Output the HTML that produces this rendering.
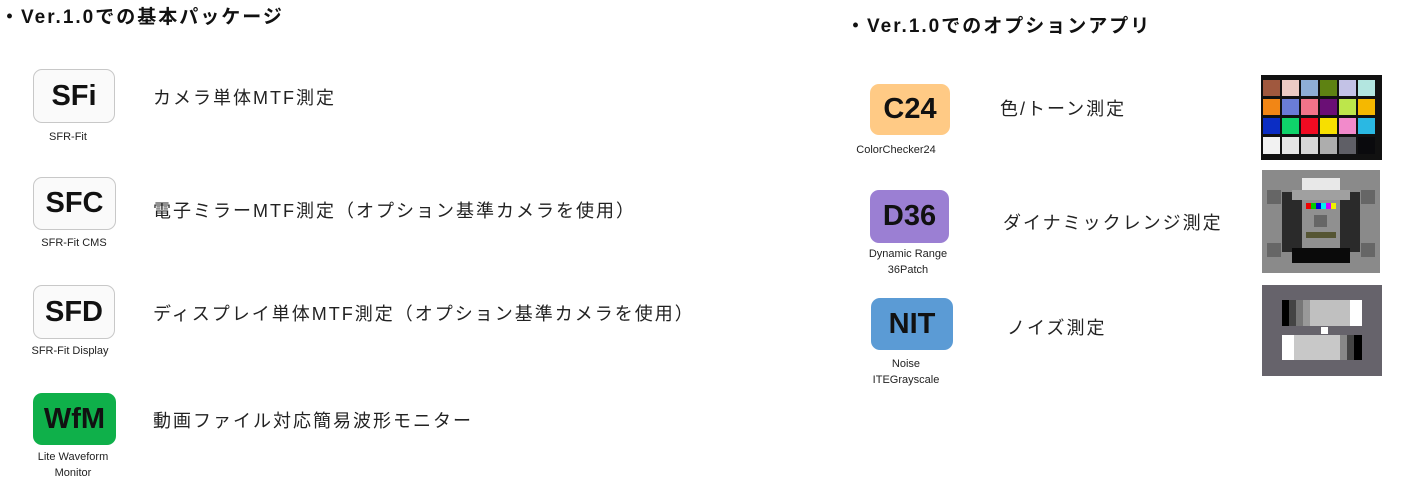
<!DOCTYPE html>
<html><head><meta charset="utf-8"><style>
body{margin:0;width:1404px;height:490px;background:#fff;position:relative;overflow:hidden;font-family:"Liberation Sans","Noto Sans CJK JP",sans-serif;color:#222}
.a{position:absolute;white-space:nowrap}
.t{font-weight:bold;font-size:19px;color:#111;letter-spacing:2px}
.ic{position:absolute;border-radius:9px;display:flex;align-items:center;justify-content:center;font-weight:bold;font-size:29px;color:#111;font-family:"Liberation Sans",sans-serif}
.w{background:#fafafa;border:1.5px solid #c8c8c8;box-sizing:border-box}
.l{font-size:11px;text-align:center;color:#222;line-height:16px;transform:translateX(-50%)}
.d{font-size:18px;color:#222;letter-spacing:2px}
</style></head><body>
<div class="a t" style="left:0;top:2px">・Ver.1.0での基本パッケージ</div>
<div class="a t" style="left:846px;top:11px">・Ver.1.0でのオプションアプリ</div>

<div class="ic w" style="left:33px;top:69px;width:82px;height:54px">SFi</div>
<div class="a l" style="left:68px;top:129px">SFR-Fit</div>
<div class="a d" style="left:153px;top:84px">カメラ単体MTF測定</div>

<div class="ic w" style="left:33px;top:177px;width:83px;height:53px">SFC</div>
<div class="a l" style="left:74px;top:235px">SFR-Fit CMS</div>
<div class="a d" style="left:153px;top:197px">電子ミラーMTF測定（オプション基準カメラを使用）</div>

<div class="ic w" style="left:33px;top:285px;width:82px;height:54px">SFD</div>
<div class="a l" style="left:70px;top:343px">SFR-Fit Display</div>
<div class="a d" style="left:153px;top:300px">ディスプレイ単体MTF測定（オプション基準カメラを使用）</div>

<div class="ic" style="left:33px;top:393px;width:83px;height:52px;background:#0fb04a">WfM</div>
<div class="a l" style="left:73px;top:449px">Lite Waveform<br>Monitor</div>
<div class="a d" style="left:153px;top:407px">動画ファイル対応簡易波形モニター</div>

<div class="ic" style="left:870px;top:84px;width:80px;height:51px;background:#ffca85">C24</div>
<div class="a l" style="left:896px;top:142px">ColorChecker24</div>
<div class="a d" style="left:1000px;top:95px">色/トーン測定</div>

<div class="ic" style="left:870px;top:190px;width:79px;height:53px;background:#9b7fd3">D36</div>
<div class="a l" style="left:908px;top:246px">Dynamic Range<br>36Patch</div>
<div class="a d" style="left:1003px;top:209px">ダイナミックレンジ測定</div>

<div class="ic" style="left:871px;top:298px;width:82px;height:52px;background:#5b9bd5">NIT</div>
<div class="a l" style="left:906px;top:356px">Noise<br>ITEGrayscale</div>
<div class="a d" style="left:1007px;top:314px">ノイズ測定</div>

<svg class="a" style="left:1261px;top:75px" width="121" height="85" viewBox="0 0 121 85">
<rect width="121" height="85" fill="#111"/>
<g>
<rect x="2" y="5" width="17" height="16" fill="#a0583e"/><rect x="21" y="5" width="17" height="16" fill="#eccbc4"/><rect x="40" y="5" width="17" height="16" fill="#8eaed6"/><rect x="59" y="5" width="17" height="16" fill="#5e8212"/><rect x="78" y="5" width="17" height="16" fill="#c3c2e6"/><rect x="97" y="5" width="17" height="16" fill="#b3e6e0"/>
<rect x="2" y="24" width="17" height="16" fill="#f28615"/><rect x="21" y="24" width="17" height="16" fill="#6a7cd6"/><rect x="40" y="24" width="17" height="16" fill="#f27489"/><rect x="59" y="24" width="17" height="16" fill="#6a0f75"/><rect x="78" y="24" width="17" height="16" fill="#bde64b"/><rect x="97" y="24" width="17" height="16" fill="#f5b800"/>
<rect x="2" y="43" width="17" height="16" fill="#0b2dc4"/><rect x="21" y="43" width="17" height="16" fill="#0fd36a"/><rect x="40" y="43" width="17" height="16" fill="#f00b22"/><rect x="59" y="43" width="17" height="16" fill="#f7df00"/><rect x="78" y="43" width="17" height="16" fill="#f28acb"/><rect x="97" y="43" width="17" height="16" fill="#2ab8e3"/>
<rect x="2" y="62" width="17" height="17" fill="#f2f2f2"/><rect x="21" y="62" width="17" height="17" fill="#e5e5e5"/><rect x="40" y="62" width="17" height="17" fill="#d6d6d6"/><rect x="59" y="62" width="17" height="17" fill="#adadad"/><rect x="78" y="62" width="17" height="17" fill="#5f5f66"/><rect x="97" y="62" width="17" height="17" fill="#0a0a0d"/>
</g></svg>

<svg class="a" style="left:1262px;top:170px" width="118" height="103" viewBox="0 0 118 103">
<rect width="118" height="103" fill="#8a8a8a"/>
<rect x="20" y="22" width="78" height="60" fill="#2a2a2a"/>
<rect x="40" y="8" width="38" height="12" fill="#e8e8e8"/>
<rect x="30" y="20" width="58" height="10" fill="#a0a0a0"/>
<rect x="40" y="30" width="38" height="52" fill="#909090"/>
<rect x="30" y="78" width="58" height="15" fill="#0a0a0a"/>
<rect x="44" y="33" width="30" height="6" fill="#c0f"/><rect x="44" y="33" width="5" height="6" fill="#e00"/><rect x="49" y="33" width="5" height="6" fill="#0c0"/><rect x="54" y="33" width="5" height="6" fill="#00d"/><rect x="59" y="33" width="5" height="6" fill="#0ee"/><rect x="69" y="33" width="5" height="6" fill="#ee0"/>
<rect x="44" y="62" width="30" height="6" fill="#553"/>
<rect x="52" y="45" width="13" height="12" fill="#666"/>
<rect x="5" y="20" width="14" height="14" fill="#666"/><rect x="99" y="20" width="14" height="14" fill="#666"/><rect x="5" y="73" width="14" height="14" fill="#666"/><rect x="99" y="73" width="14" height="14" fill="#666"/>
</svg>

<svg class="a" style="left:1262px;top:285px" width="120" height="91" viewBox="0 0 120 91">
<rect width="120" height="91" fill="#66636b"/>
<rect x="20" y="15" width="80" height="26" fill="#c0c0c0"/>
<rect x="20" y="15" width="7" height="26" fill="#000"/><rect x="27" y="15" width="7" height="26" fill="#444"/><rect x="34" y="15" width="7" height="26" fill="#777"/><rect x="41" y="15" width="7" height="26" fill="#999"/><rect x="88" y="15" width="12" height="26" fill="#fff"/>
<rect x="59" y="42" width="7" height="7" fill="#fff"/>
<rect x="20" y="50" width="80" height="25" fill="#c8c8c8"/>
<rect x="20" y="50" width="12" height="25" fill="#fff"/><rect x="78" y="50" width="7" height="25" fill="#888"/><rect x="85" y="50" width="7" height="25" fill="#444"/><rect x="92" y="50" width="8" height="25" fill="#000"/>
</svg>
</body></html>
